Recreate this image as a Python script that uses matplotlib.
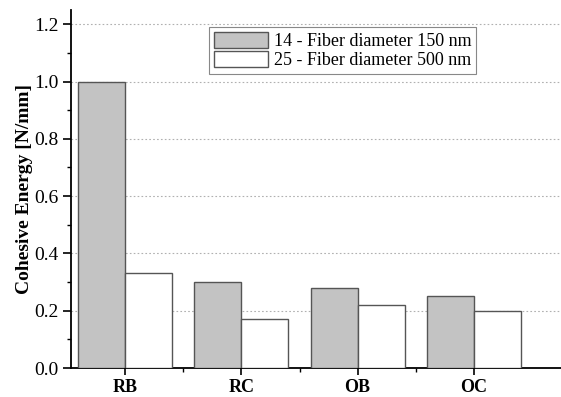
import numpy as np
import matplotlib
matplotlib.use("Agg")
import matplotlib.pyplot as plt
from matplotlib.ticker import MultipleLocator, FixedLocator, FormatStrFormatter

categories = ["RB", "RC", "OB", "OC"]
fiber_150 = [1.00, 0.30, 0.28, 0.25]
fiber_500 = [0.33, 0.17, 0.22, 0.20]
labels = ["14 - Fiber diameter 150 nm", "25 - Fiber diameter 500 nm"]

plt.rcParams['font.family'] = ['Liberation Serif', 'DejaVu Serif']

fig = plt.figure(figsize=(5.61, 3.97), dpi=100)
ax = fig.add_axes([0.1266, 0.073, 0.8734, 0.902])

x = np.arange(len(categories))
w = 0.405
ax.bar(x - w / 2, fiber_150, w, color='#c3c3c3', edgecolor='#555555', linewidth=1.0,
       label=labels[0], zorder=3)
ax.bar(x + w / 2, fiber_500, w, color='white', edgecolor='#555555', linewidth=1.0,
       label=labels[1], zorder=3)

ax.set_xlim(-0.466, 3.75)
ax.set_ylim(0, 1.25)
ax.set_xticks(x)
ax.set_xticklabels(categories, fontweight='bold', fontsize=13)
ax.xaxis.set_minor_locator(FixedLocator(x[:-1] + 0.5))
ax.yaxis.set_major_locator(MultipleLocator(0.2))
ax.yaxis.set_minor_locator(MultipleLocator(0.1))
ax.yaxis.set_major_formatter(FormatStrFormatter('%.1f'))
ax.tick_params(axis='y', which='major', direction='out', length=6, width=1.2, labelsize=14, pad=3)
ax.tick_params(axis='y', which='minor', direction='out', length=3, width=1.0)
ax.tick_params(axis='x', which='major', direction='out', length=5, width=1.2, pad=3)
ax.tick_params(axis='x', which='minor', direction='out', length=3, width=1.0)

ax.spines['top'].set_visible(False)
ax.spines['right'].set_visible(False)
ax.spines['left'].set_linewidth(1.3)
ax.spines['bottom'].set_linewidth(1.3)

ax.grid(axis='y', linestyle=(0, (1.5, 2)), color='#b0b0b0', linewidth=0.8, zorder=0)

ax.set_ylabel('Cohesive Energy [N/mm]', fontweight='bold', fontsize=14, labelpad=1)

leg = ax.legend(loc='upper left', bbox_to_anchor=(0.2816, 0.952), borderaxespad=0,
                fancybox=False, framealpha=1, edgecolor='#888888', fontsize=13,
                handlelength=3.0, handleheight=1.0, handletextpad=0.35,
                labelspacing=0.05, borderpad=0.25)
leg.get_frame().set_linewidth(0.8)
for p in leg.get_patches():
    p.set_edgecolor('#555555')

fig.savefig("out.png", dpi=100)
